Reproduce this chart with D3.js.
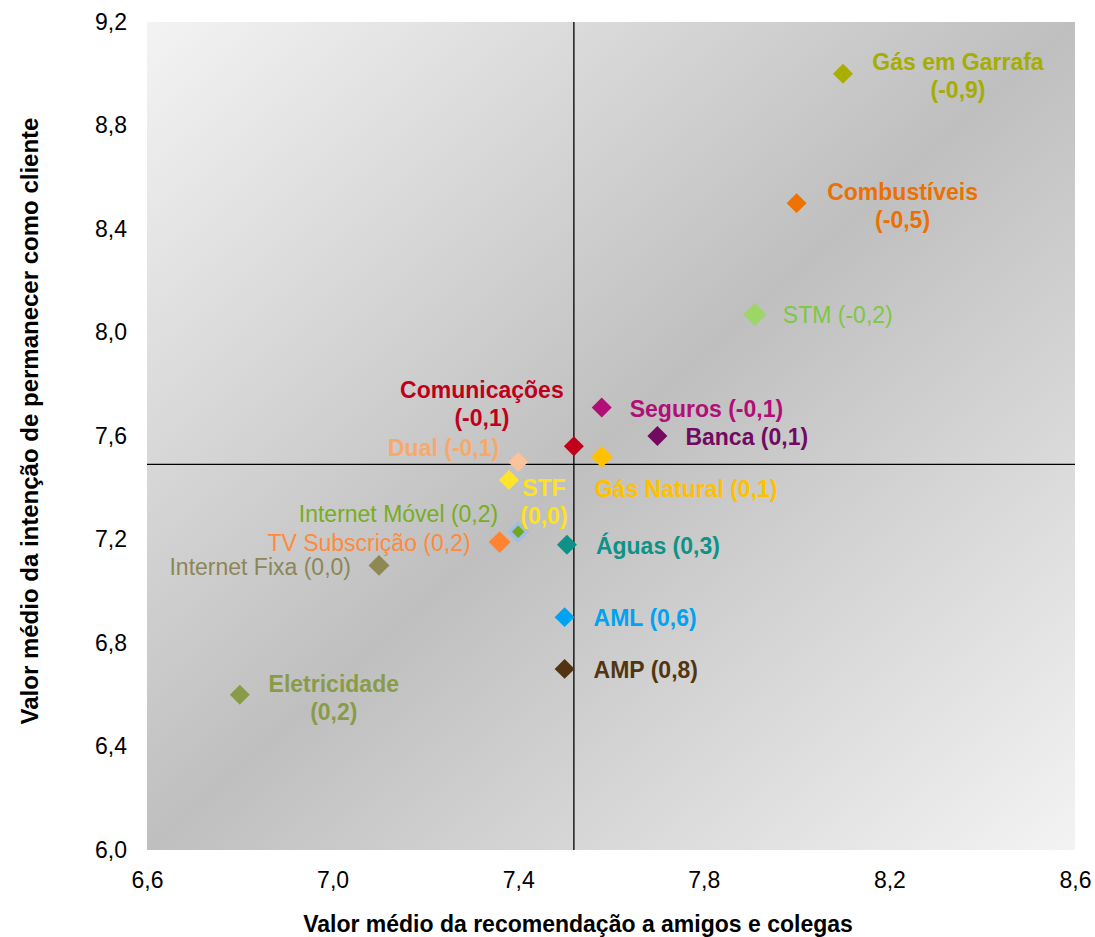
<!DOCTYPE html>
<html lang="pt">
<head>
<meta charset="utf-8">
<script src="https://cdn.jsdelivr.net/npm/d3@7"></script>
<style>
  html, body { margin: 0; padding: 0; background: #ffffff; }
  svg { display: block; font-family: "Liberation Sans", Arial, sans-serif; }
</style>
</head>
<body>
<svg id="chart" width="1095" height="937"></svg>
<script>
// Sectores avaliados
const sectores = [
  "Gás em Garrafa", "Combustíveis", "STM", "Seguros", "Banca",
  "Comunicações", "Gás Natural", "Dual", "STF", "Internet Móvel",
  "TV Subscrição", "Águas", "Internet Fixa", "AML", "AMP", "Eletricidade"
];
// Valor médio da recomendação a amigos e colegas (eixo X)
const recomendacao = [8.10, 8.00, 7.91, 7.58, 7.70, 7.52, 7.58, 7.40, 7.38, 7.40, 7.36, 7.505, 7.10, 7.50, 7.50, 6.80];
// Valor médio da intenção de permanecer como cliente (eixo Y)
const intencao = [9.00, 8.50, 8.07, 7.71, 7.60, 7.56, 7.52, 7.50, 7.43, 7.23, 7.19, 7.18, 7.10, 6.90, 6.70, 6.60];
// Variação indicada entre parênteses
const variacao = ["-0,9", "-0,5", "-0,2", "-0,1", "0,1", "-0,1", "0,1", "-0,1", "0,0", "0,2", "0,2", "0,3", "0,0", "0,6", "0,8", "0,2"];
// Médias globais (linhas de referência)
const mediaRecomendacao = 7.52;
const mediaIntencao = 7.49;
// Marcas dos eixos
const ticksX = [6.6, 7.0, 7.4, 7.8, 8.2, 8.6];
const ticksY = [6.0, 6.4, 6.8, 7.2, 7.6, 8.0, 8.4, 8.8, 9.2];

// Cores (marcador, texto)
const coresMarcador = ["#a8af00", "#ee7203", "#9cd664", "#b10e78", "#720a62", "#c0001b", "#ffc000", "#fbc39c",
  "#ffe42c", "#6fa81e", "#ff8432", "#0e9288", "#8e8853", "#00a3f2", "#523510", "#8a9b48"];
const coresTexto = ["#a5ad00", "#ec7000", "#7dc743", "#b10e78", "#720a62", "#c0001b", "#ffc000", "#f9a86c",
  "#ffe21e", "#77ad1f", "#ff8a3a", "#0e9288", "#8c8658", "#00a3f2", "#523510", "#8a9b48"];

// Disposição das etiquetas: deslocamento face ao marcador, alinhamento, peso, quebra de linha
const etiquetas = [
  { dx: 115, dy: -12, anchor: "middle", bold: true, split: true },
  { dx: 106, dy: -11, anchor: "middle", bold: true, split: true },
  { dx: 28, dy: 1, anchor: "start", bold: false, split: false },
  { dx: 28, dy: 1, anchor: "start", bold: true, split: false },
  { dx: 28, dy: 1, anchor: "start", bold: true, split: false },
  { dx: -92, dy: -56, anchor: "middle", bold: true, split: true },
  { dx: -7, dy: 32, anchor: "start", bold: true, split: false },
  { dx: -19, dy: -14, anchor: "end", bold: true, split: false },
  { dx: 35, dy: 8, anchor: "middle", bold: true, split: true },
  { dx: -20, dy: -18, anchor: "end", bold: false, split: false },
  { dx: -29, dy: 1, anchor: "end", bold: false, split: false },
  { dx: 29, dy: 1, anchor: "start", bold: true, split: false },
  { dx: -28, dy: 2, anchor: "end", bold: false, split: false },
  { dx: 29, dy: 1, anchor: "start", bold: true, split: false },
  { dx: 29, dy: 1, anchor: "start", bold: true, split: false },
  { dx: 94, dy: -11, anchor: "middle", bold: true, split: true }
];
// Tamanho (área) de cada marcador
const areas = [200, 200, 265, 200, 200, 200, 240, 200, 200, 150, 240, 200, 220, 200, 200, 200];

const svg = d3.select("#chart");
const plot = { left: 147, right: 1075, top: 22, bottom: 850 };

const x = d3.scaleLinear().domain([6.6, 8.6]).range([plot.left, plot.right]);
const y = d3.scaleLinear().domain([6.0, 9.2]).range([plot.bottom, plot.top]);

const pt = d3.formatLocale({ decimal: ",", thousands: ".", grouping: [3], currency: ["", " €"] });
const fmt = pt.format(".1f");

// Fundo com gradiente diagonal
const defs = svg.append("defs");
const grad = defs.append("linearGradient")
  .attr("id", "fundo")
  .attr("x1", 0).attr("y1", 0).attr("x2", 1).attr("y2", 1);
grad.append("stop").attr("offset", "0%").attr("stop-color", "#f3f3f3");
grad.append("stop").attr("offset", "50%").attr("stop-color", "#bfbfbf");
grad.append("stop").attr("offset", "100%").attr("stop-color", "#f3f3f3");

svg.append("rect")
  .attr("x", plot.left).attr("y", plot.top)
  .attr("width", plot.right - plot.left).attr("height", plot.bottom - plot.top)
  .attr("fill", "url(#fundo)");

// Eixos
const axX = svg.append("g")
  .attr("transform", `translate(0,${plot.bottom})`)
  .call(d3.axisBottom(x).tickValues(ticksX).tickFormat(fmt).tickSize(0).tickPadding(22));
const axY = svg.append("g")
  .attr("transform", `translate(${plot.left},0)`)
  .call(d3.axisLeft(y).tickValues(ticksY).tickFormat(fmt).tickSize(0).tickPadding(20));
[axX, axY].forEach(g => {
  g.select(".domain").remove();
  g.selectAll("text")
    .attr("font-family", "Liberation Sans, Arial, sans-serif")
    .attr("font-size", 23)
    .attr("fill", "#000");
});

// Títulos dos eixos
svg.append("text")
  .attr("x", 578).attr("y", 932)
  .attr("text-anchor", "middle")
  .attr("font-size", 23).attr("font-weight", "bold")
  .text("Valor médio da recomendação a amigos e colegas");

svg.append("text")
  .attr("transform", `translate(38,421) rotate(-90)`)
  .attr("text-anchor", "middle")
  .attr("font-size", 24).attr("font-weight", "bold")
  .text("Valor médio da intenção de permanecer como cliente");

// Linhas de referência (médias)
svg.append("line")
  .attr("x1", x(mediaRecomendacao)).attr("x2", x(mediaRecomendacao))
  .attr("y1", plot.top).attr("y2", plot.bottom)
  .attr("stroke", "#000").attr("stroke-width", 1.3);
svg.append("line")
  .attr("x1", plot.left).attr("x2", plot.right)
  .attr("y1", y(mediaIntencao)).attr("y2", y(mediaIntencao))
  .attr("stroke", "#000").attr("stroke-width", 1.3);

// Pontos
const pontos = sectores.map((nome, i) => ({
  nome, rx: recomendacao[i], iy: intencao[i], v: variacao[i],
  cor: coresMarcador[i], corTexto: coresTexto[i], lab: etiquetas[i], area: areas[i]
}));

const simbolo = d3.symbol().type(d3.symbolSquare);

svg.append("g").selectAll("path")
  .data(pontos)
  .join("path")
  .attr("transform", d => `translate(${x(d.rx)},${y(d.iy)}) rotate(45)`)
  .attr("d", d => simbolo.size(d.area)())
  .attr("fill", d => d.cor)
  .attr("stroke", d => d.nome === "Internet Móvel" ? "#a3bde0" : "none")
  .attr("stroke-width", d => d.nome === "Internet Móvel" ? 3.5 : 0);

// Etiquetas
const labels = svg.append("g").selectAll("text")
  .data(pontos)
  .join("text")
  .attr("x", d => x(d.rx) + d.lab.dx)
  .attr("y", d => y(d.iy) + d.lab.dy)
  .attr("dy", "0.35em")
  .attr("text-anchor", d => d.lab.anchor)
  .attr("font-size", 23)
  .attr("font-weight", d => d.lab.bold ? "bold" : "normal")
  .attr("fill", d => d.corTexto);

labels.each(function (d) {
  const t = d3.select(this);
  if (d.lab.split) {
    t.append("tspan").text(d.nome);
    t.append("tspan")
      .attr("x", x(d.rx) + d.lab.dx)
      .attr("dy", 28)
      .text(`(${d.v})`);
  } else {
    t.text(`${d.nome} (${d.v})`);
  }
});
</script>
</body>
</html>
